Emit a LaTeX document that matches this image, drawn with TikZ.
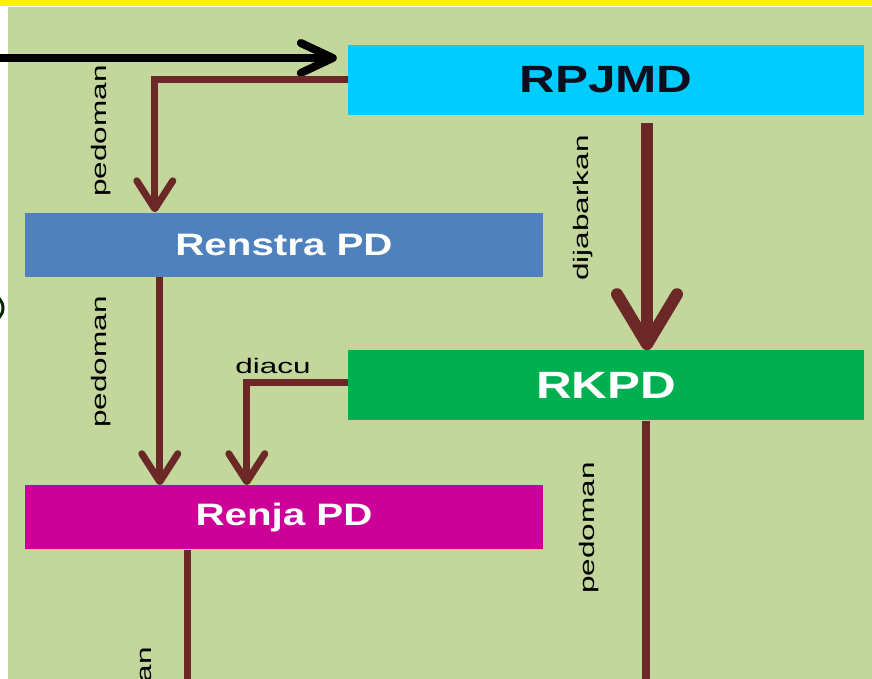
\documentclass[tikz,border=0pt]{standalone}
\usepackage{fontspec}
\setmainfont{Liberation Sans}
\newfontfamily\boxfont[FakeStretch=1.3]{Liberation Sans}
\newfontfamily\tagfont[FakeStretch=1.5]{Liberation Sans}
\usetikzlibrary{arrows.meta,positioning,calc}
\definecolor{bggreen}{RGB}{195,214,155}
\definecolor{rpjmdcol}{RGB}{0,204,255}
\definecolor{renstracol}{RGB}{79,129,189}
\definecolor{rkpdcol}{RGB}{0,176,80}
\definecolor{renjacol}{RGB}{204,0,153}
\definecolor{arrowbrown}{RGB}{108,40,38}
\definecolor{navytext}{RGB}{12,14,30}
\tikzset{
  plan/.style={minimum width=516pt,minimum height=70pt,inner sep=0pt,
    font=\boxfont\fontsize{38}{38}\selectfont\bfseries},
  unit/.style={minimum width=518pt,minimum height=64pt,inner sep=0pt,text=white,
    font=\boxfont\fontsize{31}{31}\selectfont\bfseries},
  tag/.style={inner sep=0pt,font=\tagfont\fontsize{21}{21}\selectfont},
  flow/.style={-{Straight Barb[round,length=28pt,width=36pt]},line width=7pt,arrowbrown},
  bigflow/.style={-{Straight Barb[round,length=50pt,width=60pt]},line width=12pt,arrowbrown},
  pipe/.style={line width=8pt,arrowbrown},
  feed/.style={-{Straight Barb[round,length=32pt,width=30pt]},line width=8pt,black},
}
\begin{document}
\begin{tikzpicture}[x=1pt,y=-1pt]
  \useasboundingbox (0,0) rectangle (872,679);
  \clip (0,0) rectangle (872,679);
  \fill[white] (0,0) rectangle (872,679);
  \fill[yellow] (0,0) rectangle (872,6);
  \fill[bggreen] (8,7) rectangle (872,679);
  \draw[line width=3pt,black!60!green!40!black] (-11,308) circle (14);

  \node[plan,fill=rpjmdcol,text=navytext] (rpjmd) at (606,80) {RPJMD};
  \node[plan,fill=rkpdcol,text=white,below=235pt of rpjmd] (rkpd) {RKPD};
  \node[unit,fill=renstracol] (renstra) at (284,244.5) {Renstra PD};
  \node[unit,fill=renjacol,below=208.5pt of renstra] (renja) {Renja PD};

  \coordinate (src) at (0,58);
  \coordinate (rkpdend) at (646,700);
  \coordinate (renjaend) at (187,700);

  \draw[feed,shorten >=11pt] (src) -- (rpjmd.west |- src);
  \draw[flow] (rpjmd.west) -| ([xshift=130pt]renstra.north west);
  \draw[bigflow,shorten <=8pt] ([xshift=41pt]rpjmd.south) -- ([xshift=41pt]rkpd.north);
  \draw[flow] ([xshift=135pt]renstra.south west) -- ([xshift=135pt]renja.north west);
  \draw[flow] ([yshift=3pt]rkpd.west) -| ([xshift=222pt]renja.north west);
  \draw[pipe] ([xshift=40pt]rkpd.south) -- (rkpd.south -| rkpdend) -- (rkpdend);
  \draw[flow,-] ([xshift=-97pt]renja.south) -- (renjaend);

  \node[tag,rotate=90] (ped1) at (101,131) {pedoman};
  \node[tag,rotate=90] (dijab) at (583,208) {dijabarkan};
  \node[tag,rotate=90] (ped2) at (101,362) {pedoman};
  \node[tag] (diacu) at (273,366) {diacu};
  \node[tag,rotate=90] (ped3) at (589,528) {pedoman};
  \node[tag,rotate=90] (ped4) at (146,713) {pedoman};
\end{tikzpicture}
\end{document}
